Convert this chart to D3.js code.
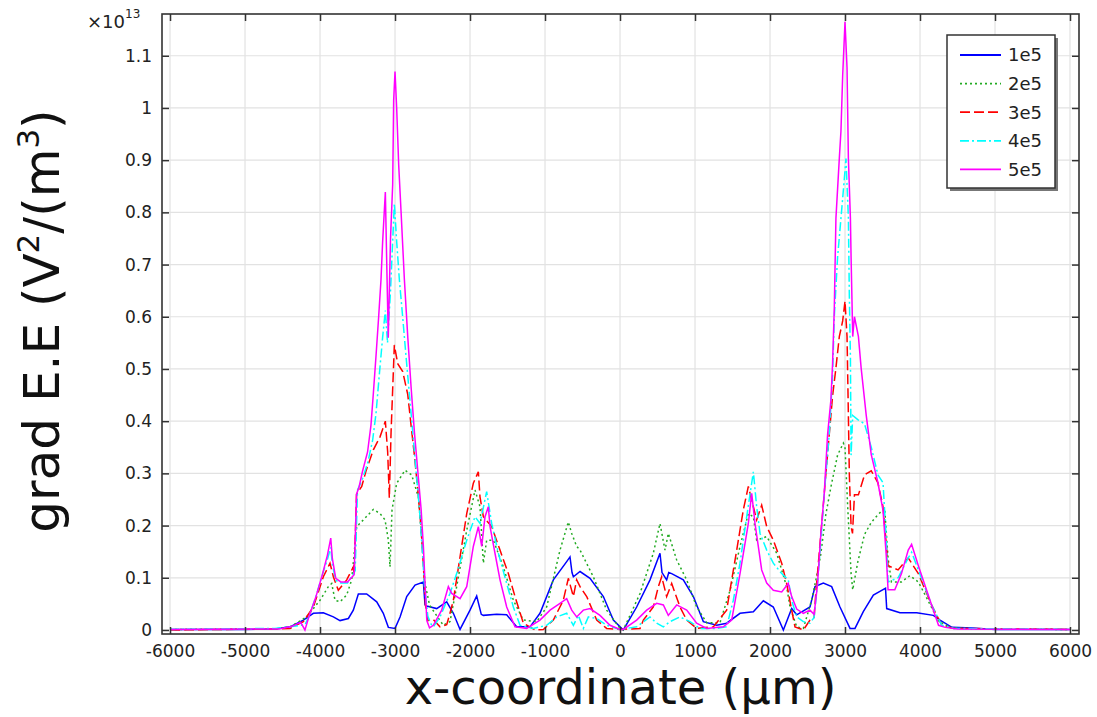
<!DOCTYPE html>
<html>
<head>
<meta charset="utf-8">
<script src="https://cdn.jsdelivr.net/npm/d3@7"></script>
<style>
  html, body { margin: 0; padding: 0; background: #fff; }
  svg { display: block; font-family: "DejaVu Sans", sans-serif; }
</style>
</head>
<body>
<svg id="chart" width="1097" height="717"></svg>
<script>
// ---------- data (x in µm, y in units of 1e13 V^2/m^3) ----------
const seriesNames = ["1e5", "2e5", "3e5", "4e5", "5e5"];
const xTicks = [-6000, -5000, -4000, -3000, -2000, -1000, 0, 1000, 2000, 3000, 4000, 5000, 6000];
const yTicks = [0, 0.1, 0.2, 0.3, 0.4, 0.5, 0.6, 0.7, 0.8, 0.9, 1, 1.1];

const s1e5 = [[-6000,0.001],[-5000,0.001],[-4600,0.002],[-4400,0.006],[-4222,0.019],[-4089,0.032],[-3956,0.033],[-3822,0.025],[-3733,0.018],[-3622,0.022],[-3556,0.038],[-3489,0.069],[-3378,0.069],[-3244,0.054],[-3156,0.032],[-3089,0.005],[-3000,0.003],[-2933,0.025],[-2844,0.064],[-2733,0.086],[-2622,0.092],[-2600,0.048],[-2578,0.046],[-2444,0.041],[-2311,0.054],[-2222,0.032],[-2133,0.001],[-2000,0.038],[-1911,0.065],[-1850,0.030],[-1822,0.028],[-1644,0.030],[-1511,0.029],[-1378,0.006],[-1200,0.006],[-1067,0.032],[-889,0.096],[-711,0.131],[-667,0.140],[-640,0.110],[-622,0.102],[-533,0.112],[-400,0.099],[-222,0.064],[-89,0.019],[44,0.0],[222,0.044],[400,0.096],[533,0.147],[560,0.110],[622,0.096],[650,0.110],[689,0.108],[844,0.096],[978,0.064],[1111,0.016],[1289,0.009],[1422,0.013],[1600,0.032],[1778,0.035],[1911,0.056],[2044,0.044],[2178,0.0],[2289,0.041],[2356,0.029],[2533,0.044],[2600,0.083],[2711,0.090],[2822,0.083],[2933,0.044],[3067,0.003],[3133,0.003],[3244,0.035],[3378,0.067],[3489,0.076],[3540,0.080],[3556,0.041],[3733,0.033],[3956,0.033],[4178,0.028],[4267,0.019],[4426,0.005],[4700,0.004],[5000,0.001],[6000,0.001]];

const s2e5 = [[-6000,0.001],[-4600,0.002],[-4400,0.006],[-4178,0.025],[-4000,0.057],[-3889,0.083],[-3844,0.089],[-3800,0.057],[-3733,0.054],[-3644,0.067],[-3578,0.096],[-3511,0.198],[-3422,0.211],[-3289,0.231],[-3200,0.223],[-3133,0.211],[-3089,0.172],[-3067,0.121],[-3040,0.230],[-2978,0.281],[-2867,0.306],[-2778,0.297],[-2689,0.255],[-2640,0.170],[-2600,0.089],[-2540,0.048],[-2467,0.032],[-2356,0.009],[-2267,0.016],[-2178,0.083],[-2044,0.191],[-1933,0.268],[-1867,0.236],[-1822,0.128],[-1778,0.172],[-1689,0.172],[-1556,0.121],[-1422,0.057],[-1289,0.019],[-1111,0.016],[-978,0.044],[-800,0.153],[-689,0.207],[-644,0.185],[-578,0.160],[-533,0.153],[-356,0.102],[-178,0.038],[0,0.003],[44,0.0],[267,0.070],[444,0.147],[533,0.204],[600,0.153],[644,0.185],[756,0.134],[889,0.096],[1022,0.044],[1156,0.014],[1333,0.014],[1467,0.076],[1600,0.160],[1711,0.223],[1778,0.217],[1822,0.172],[1956,0.179],[2089,0.147],[2222,0.083],[2267,0.044],[2356,0.006],[2444,0.003],[2500,0.030],[2560,0.060],[2632,0.110],[2677,0.145],[2744,0.221],[2812,0.274],[2901,0.335],[2978,0.358],[3000,0.350],[3036,0.236],[3081,0.108],[3103,0.077],[3170,0.130],[3260,0.183],[3350,0.206],[3439,0.221],[3529,0.233],[3574,0.138],[3619,0.092],[3753,0.092],[3865,0.104],[3978,0.092],[4112,0.055],[4247,0.017],[4400,0.005],[4700,0.002],[6000,0.001]];

const s3e5 = [[-6000,0.0],[-4600,0.002],[-4400,0.003],[-4222,0.016],[-4089,0.044],[-3956,0.102],[-3867,0.128],[-3822,0.102],[-3756,0.076],[-3644,0.096],[-3556,0.121],[-3545,0.106],[-3513,0.260],[-3444,0.275],[-3388,0.304],[-3289,0.345],[-3200,0.370],[-3129,0.400],[-3098,0.341],[-3076,0.253],[-3053,0.378],[-3009,0.546],[-2964,0.510],[-2897,0.495],[-2830,0.451],[-2786,0.392],[-2741,0.334],[-2696,0.268],[-2652,0.194],[-2621,0.121],[-2594,0.048],[-2562,0.018],[-2489,0.020],[-2400,0.006],[-2311,0.010],[-2267,0.032],[-2222,0.057],[-2133,0.140],[-2044,0.223],[-1956,0.281],[-1889,0.303],[-1867,0.255],[-1822,0.217],[-1711,0.198],[-1600,0.153],[-1489,0.108],[-1400,0.064],[-1289,0.013],[-1133,0.0],[-1022,0.001],[-889,0.019],[-756,0.057],[-689,0.099],[-622,0.064],[-578,0.096],[-533,0.083],[-444,0.064],[-311,0.019],[-178,0.003],[0,0.001],[267,0.003],[311,0.019],[444,0.044],[511,0.083],[556,0.102],[622,0.064],[689,0.089],[800,0.044],[889,0.019],[1022,0.003],[1244,0.006],[1422,0.038],[1556,0.153],[1644,0.230],[1711,0.275],[1778,0.236],[1822,0.211],[1889,0.239],[1956,0.198],[2044,0.172],[2156,0.128],[2222,0.089],[2289,0.038],[2333,0.006],[2444,0.0],[2533,0.019],[2588,0.024],[2610,0.070],[2655,0.145],[2700,0.221],[2744,0.297],[2789,0.373],[2834,0.448],[2879,0.502],[2924,0.562],[2969,0.592],[3000,0.630],[3027,0.562],[3045,0.411],[3058,0.297],[3081,0.198],[3100,0.185],[3126,0.259],[3179,0.259],[3260,0.297],[3350,0.305],[3439,0.282],[3507,0.236],[3552,0.161],[3574,0.123],[3708,0.115],[3843,0.138],[3978,0.108],[4157,0.047],[4291,0.009],[4450,0.003],[6000,0.001]];

const s4e5 = [[-6000,0.001],[-4600,0.003],[-4400,0.006],[-4201,0.010],[-4147,0.026],[-4058,0.062],[-3969,0.106],[-3902,0.135],[-3857,0.158],[-3835,0.125],[-3790,0.095],[-3723,0.090],[-3634,0.090],[-3545,0.110],[-3531,0.114],[-3500,0.268],[-3433,0.290],[-3366,0.319],[-3299,0.363],[-3254,0.414],[-3210,0.488],[-3165,0.561],[-3129,0.612],[-3100,0.550],[-3060,0.650],[-3009,0.817],[-2978,0.744],[-2942,0.671],[-2897,0.598],[-2853,0.524],[-2808,0.451],[-2763,0.378],[-2719,0.304],[-2674,0.231],[-2639,0.158],[-2607,0.084],[-2562,0.026],[-2518,0.011],[-2489,0.006],[-2400,0.025],[-2267,0.070],[-2178,0.108],[-2044,0.172],[-1933,0.217],[-1867,0.204],[-1778,0.265],[-1711,0.204],[-1622,0.147],[-1511,0.089],[-1422,0.044],[-1333,0.009],[-1156,0.003],[-978,0.009],[-844,0.025],[-711,0.032],[-622,0.009],[-556,0.028],[-489,0.003],[-422,0.025],[-311,0.022],[-178,0.009],[0,0.001],[222,0.006],[400,0.025],[489,0.013],[578,0.006],[667,0.016],[800,0.025],[933,0.016],[1067,0.003],[1289,0.003],[1422,0.006],[1511,0.057],[1600,0.128],[1689,0.217],[1778,0.303],[1822,0.236],[1867,0.185],[1956,0.153],[2044,0.128],[2156,0.108],[2244,0.096],[2289,0.057],[2356,0.025],[2444,0.016],[2533,0.013],[2588,0.024],[2632,0.085],[2677,0.168],[2722,0.259],[2789,0.373],[2834,0.486],[2857,0.600],[2901,0.714],[2969,0.827],[3013,0.903],[3045,0.789],[3058,0.638],[3072,0.524],[3081,0.335],[3103,0.411],[3170,0.403],[3260,0.395],[3350,0.350],[3439,0.297],[3507,0.282],[3552,0.168],[3574,0.092],[3708,0.100],[3843,0.138],[3888,0.149],[3978,0.115],[4157,0.047],[4291,0.009],[4450,0.003],[6000,0.001]];

const s5e5 = [[-6000,0.001],[-4800,0.002],[-4549,0.002],[-4370,0.007],[-4259,0.015],[-4201,0.0],[-4147,0.026],[-4058,0.062],[-3969,0.106],[-3902,0.143],[-3857,0.176],[-3835,0.136],[-3790,0.099],[-3723,0.092],[-3634,0.092],[-3545,0.106],[-3513,0.260],[-3478,0.275],[-3433,0.304],[-3366,0.341],[-3321,0.392],[-3290,0.451],[-3254,0.524],[-3219,0.598],[-3187,0.671],[-3165,0.744],[-3129,0.839],[-3110,0.700],[-3090,0.560],[-3060,0.750],[-3031,0.854],[-3018,1.015],[-3000,1.070],[-2978,1.000],[-2951,0.891],[-2920,0.803],[-2875,0.671],[-2830,0.561],[-2786,0.466],[-2741,0.378],[-2696,0.304],[-2652,0.231],[-2621,0.158],[-2598,0.084],[-2576,0.018],[-2540,0.004],[-2489,0.009],[-2378,0.038],[-2289,0.083],[-2244,0.070],[-2133,0.060],[-2044,0.083],[-1956,0.160],[-1889,0.198],[-1844,0.160],[-1800,0.217],[-1756,0.236],[-1733,0.198],[-1667,0.147],[-1600,0.096],[-1511,0.044],[-1400,0.006],[-1244,0.003],[-1067,0.019],[-933,0.038],[-800,0.051],[-711,0.060],[-644,0.038],[-578,0.025],[-489,0.038],[-400,0.041],[-267,0.028],[-133,0.009],[0,0.001],[44,0.001],[222,0.019],[356,0.038],[489,0.051],[578,0.048],[644,0.028],[756,0.048],[889,0.038],[1022,0.013],[1156,0.003],[1378,0.006],[1489,0.019],[1600,0.108],[1711,0.204],[1756,0.262],[1800,0.204],[1844,0.160],[1889,0.115],[1956,0.090],[2044,0.076],[2156,0.073],[2244,0.089],[2289,0.064],[2356,0.040],[2444,0.032],[2533,0.038],[2588,0.030],[2632,0.085],[2677,0.183],[2722,0.259],[2767,0.373],[2812,0.441],[2834,0.509],[2857,0.615],[2879,0.789],[2924,0.903],[2946,0.956],[2969,1.062],[3000,1.165],[3027,1.077],[3045,0.903],[3072,0.789],[3081,0.714],[3103,0.562],[3126,0.600],[3179,0.562],[3215,0.502],[3283,0.411],[3350,0.336],[3439,0.282],[3507,0.229],[3552,0.138],[3574,0.077],[3664,0.077],[3753,0.108],[3843,0.153],[3888,0.164],[3978,0.123],[4067,0.085],[4157,0.047],[4247,0.009],[4336,0.005],[4500,0.002],[6000,0.001]];

const seriesData = [s1e5, s2e5, s3e5, s4e5, s5e5];
const colors = ["#0000ff", "#22aa22", "#ff0000", "#00ffff", "#ff00ff"];
const dashes = [null, "2,3", "10,4", "9,3,2,3", null];

// ---------- layout ----------
const svg = d3.select("#chart");
const L = 162, R = 1079, T = 14, B = 634;
const x = d3.scaleLinear().domain([-6107, 6120]).range([L, R]);
const y = d3.scaleLinear().domain([-0.0077, 1.18]).range([B, T]);

// grid
const grid = svg.append("g");
grid.selectAll(".gx").data(xTicks).join("line")
  .attr("x1", d => x(d)).attr("x2", d => x(d)).attr("y1", T).attr("y2", B)
  .attr("stroke", "#e2e2e2").attr("stroke-width", 1.2);
grid.selectAll(".gy").data(yTicks).join("line")
  .attr("y1", d => y(d)).attr("y2", d => y(d)).attr("x1", L).attr("x2", R)
  .attr("stroke", "#e2e2e2").attr("stroke-width", 1.2);

// clip
svg.append("clipPath").attr("id", "clip").append("rect")
  .attr("x", L).attr("y", T).attr("width", R - L).attr("height", B - T);

const line = d3.line().x(d => x(d[0])).y(d => y(d[1]));
const lines = svg.append("g").attr("clip-path", "url(#clip)");
seriesData.forEach((s, i) => {
  lines.append("path").datum(s).attr("d", line)
    .attr("fill", "none").attr("stroke", colors[i]).attr("stroke-width", 1.5)
    .attr("stroke-linejoin", "miter").attr("stroke-dasharray", dashes[i]);
});

// axes
const fmtX = d => String(d);
const fmtY = d => String(+d.toFixed(1));
const axB = svg.append("g").attr("transform", `translate(0,${B})`)
  .call(d3.axisBottom(x).tickValues(xTicks).tickFormat(fmtX).tickSizeInner(-7).tickSizeOuter(0).tickPadding(11));
const axL = svg.append("g").attr("transform", `translate(${L},0)`)
  .call(d3.axisLeft(y).tickValues(yTicks).tickFormat(fmtY).tickSizeInner(-7).tickSizeOuter(0).tickPadding(10));
const axT = svg.append("g").attr("transform", `translate(0,${T})`)
  .call(d3.axisTop(x).tickValues(xTicks).tickFormat("").tickSizeInner(-7).tickSizeOuter(0));
const axR = svg.append("g").attr("transform", `translate(${R},0)`)
  .call(d3.axisRight(y).tickValues(yTicks).tickFormat("").tickSizeInner(-7).tickSizeOuter(0));
[axB, axL, axT, axR].forEach(a => {
  a.select(".domain").remove();
  a.selectAll(".tick line").attr("stroke", "#333").attr("stroke-width", 1.5);
  a.selectAll("text").attr("font-family", "DejaVu Sans").attr("font-size", 17).attr("fill", "#222");
});

// frame
svg.append("rect").attr("x", L).attr("y", T).attr("width", R - L).attr("height", B - T)
  .attr("fill", "none").attr("stroke", "#333").attr("stroke-width", 1.6);

// exponent label
const ex = svg.append("text").attr("x", 87).attr("y", 28).attr("font-size", 18).attr("fill", "#222");
ex.append("tspan").text("×10");
ex.append("tspan").attr("dy", -10).attr("font-size", 12).text("13");

// axis titles
svg.append("text").attr("x", (L + R) / 2).attr("y", 704).attr("text-anchor", "middle")
  .attr("font-size", 48).attr("fill", "#111").text("x-coordinate (µm)");

const yt = svg.append("text").attr("transform", `translate(59,${(T + B) / 2 - 3}) rotate(-90)`)
  .attr("text-anchor", "middle").attr("font-size", 50).attr("fill", "#111");
yt.append("tspan").text("grad E.E (V");
yt.append("tspan").attr("dy", -20).attr("font-size", 31).text("2");
yt.append("tspan").attr("dy", 20).text("/(m");
yt.append("tspan").attr("dy", -20).attr("font-size", 31).text("3");
yt.append("tspan").attr("dy", 20).text(")");

// legend
const lg = svg.append("g");
const lx = 947, ly = 35, lw = 108, lh = 153;
lg.append("rect").attr("x", lx + 3).attr("y", ly + 3).attr("width", lw).attr("height", lh).attr("fill", "#777");
lg.append("rect").attr("x", lx).attr("y", ly).attr("width", lw).attr("height", lh)
  .attr("fill", "#fff").attr("stroke", "#333").attr("stroke-width", 1.5);
seriesNames.forEach((n, i) => {
  const yy = 55 + i * 28.6;
  lg.append("line").attr("x1", 960).attr("x2", 1001).attr("y1", yy).attr("y2", yy)
    .attr("stroke", colors[i]).attr("stroke-width", 1.8).attr("stroke-dasharray", dashes[i]);
  lg.append("text").attr("x", 1008).attr("y", yy).attr("dy", "0.35em")
    .attr("font-size", 18).attr("fill", "#222").text(n);
});
</script>
</body>
</html>
